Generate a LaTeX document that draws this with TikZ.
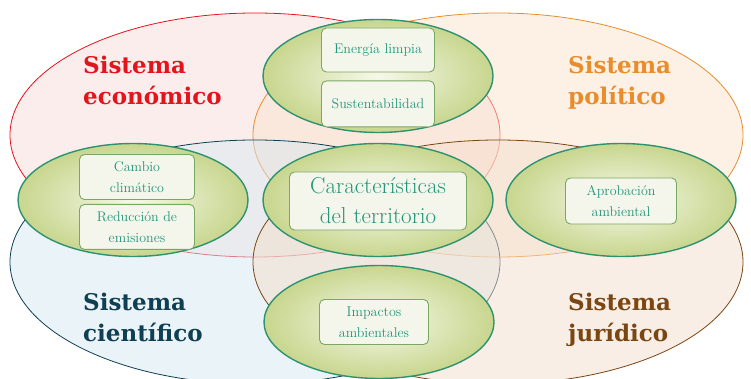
\documentclass[tikz,border=0pt]{standalone}
\usepackage{fontspec}
\usetikzlibrary{shapes.geometric,positioning}
\newfontfamily\slabfont{DejaVu Serif}

\definecolor{ecored}{HTML}{E3141C}
\definecolor{polorange}{HTML}{E98C2C}
\definecolor{ciencteal}{HTML}{0E3F52}
\definecolor{jurbrown}{HTML}{7A4613}
\definecolor{ecofill}{HTML}{FADCDC}
\definecolor{polfill}{HTML}{FBE3CC}
\definecolor{cienfill}{HTML}{D6E8EF}
\definecolor{jurfill}{HTML}{F3DDCB}
\definecolor{ringgreen}{HTML}{2E9271}
\definecolor{boxgreen}{HTML}{78A862}
\definecolor{txtgreen}{HTML}{23957A}
\definecolor{ringout}{HTML}{C8D68E}
\definecolor{ringin}{HTML}{F6F8EA}
\definecolor{boxfill}{HTML}{F4F6EC}

\begin{document}
\begin{tikzpicture}[x=1pt,y=-1pt,
    sistema/.style={ellipse, line width=0.8pt, fill opacity=0.5, minimum width=490pt, minimum height=244pt},
    anillo/.style={ellipse, draw=ringgreen, line width=1.4pt, inner color=ringin, outer color=ringout, minimum width=230pt, minimum height=113pt},
    caja/.style={draw=boxgreen, line width=0.9pt, rounded corners=5pt, fill=boxfill, text=txtgreen, align=center, inner sep=0pt, font=\fontsize{14}{21}\selectfont},
    titulo/.style={anchor=north west, align=left, inner sep=0pt, font=\slabfont\bfseries\fontsize{23}{31}\selectfont}]
        \useasboundingbox (0,0) rectangle (751,379);
        % los cuatro sistemas
        \node [sistema, draw=ecored, fill=ecofill] (eco) at (255,135) {};
        \node [sistema, draw=polorange, fill=polfill] (pol) at (498,135) {};
        \node [sistema, draw=ciencteal, fill=cienfill] (cien) at (255,262) {};
        \node [sistema, draw=jurbrown, fill=jurfill] (jur) at (498,262) {};
        \node [titulo, text=ecored] (ecotxt) at (83,56) {Sistema\\econ\'omico};
        \node [titulo, text=polorange] (poltxt) at (568,56) {Sistema\\pol\'itico};
        \node [titulo, text=ciencteal] (cientxt) at (83,293) {Sistema\\cient\'ifico};
        \node [titulo, text=jurbrown] (jurtxt) at (568,293) {Sistema\\jur\'idico};
        % anillos verdes
        \node [anillo] (arriba) at (378,76) {};
        \node [anillo] (izq) at (133,200) {};
        \node [anillo] (centro) at (378,200) {};
        \node [anillo] (der) at (621,200) {};
        \node [anillo] (abajo) at (379,322) {};
        % cajas
        \node [caja, minimum width=113pt, minimum height=44pt] (energia) at (378,50) {Energ\'ia limpia};
        \node [caja, minimum width=113pt, minimum height=46pt, below=8pt of energia] (susten) {Sustentabilidad};
        \node [caja, minimum width=115pt, minimum height=45pt] (cambio) at (137,177) {Cambio\\clim\'atico};
        \node [caja, minimum width=115pt, minimum height=45pt, below=4pt of cambio] (reduc) {Reducci\'on de\\emisiones};
        \node [caja, minimum width=177pt, minimum height=58pt, font=\fontsize{23}{30}\selectfont] (caract) at (378,201) {Caracter\'isticas\\del territorio};
        \node [caja, minimum width=111pt, minimum height=46pt] (aprob) at (621,201) {Aprobaci\'on\\ambiental};
        \node [caja, minimum width=109pt, minimum height=45pt] (impac) at (374,322) {Impactos\\ambientales};
    \end{tikzpicture}
\end{document}
